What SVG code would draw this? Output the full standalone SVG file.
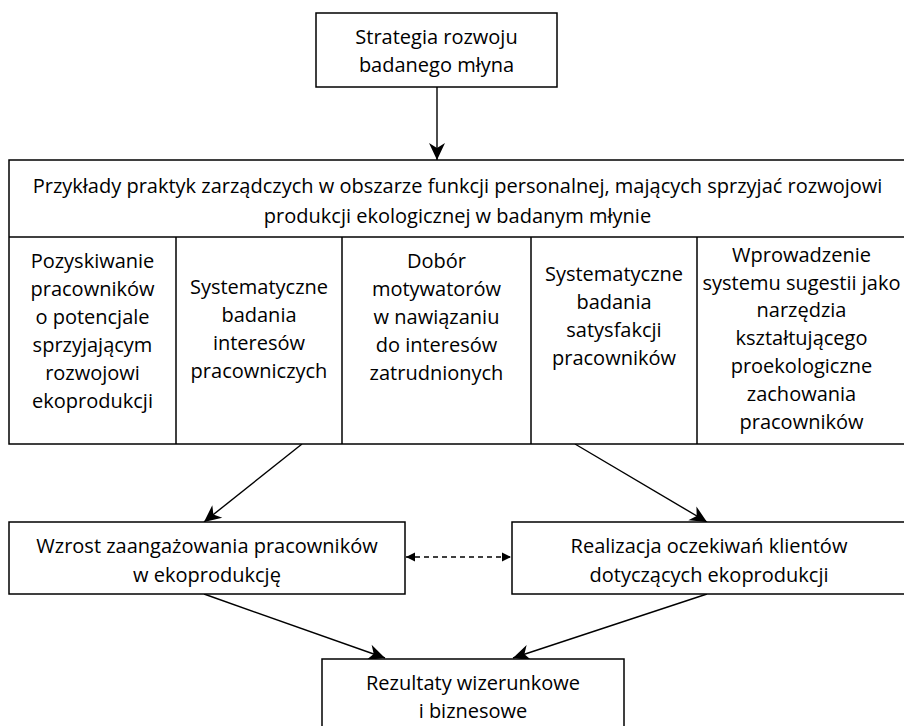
<svg xmlns="http://www.w3.org/2000/svg" width="904" height="726" viewBox="0 0 904 726">
<style>
.box{fill:#fff;stroke:#000;stroke-width:1.5}
.div{stroke:#000;stroke-width:1.5;fill:none}
.t{font-family:"Open Sans","Noto Sans","Liberation Sans",sans-serif;font-size:20px;fill:#000;text-anchor:middle}
.c{stroke:#000;stroke-width:1.4;fill:none}
.d{stroke:#000;stroke-width:1.4;fill:none;stroke-dasharray:5 4}
</style>
<defs>
<marker id="ah" markerUnits="userSpaceOnUse" markerWidth="18" markerHeight="18" refX="17" refY="8" orient="auto" overflow="visible">
<path d="M0,0 L17,8 L0,16 L5,8 Z" fill="#000"/>
</marker>
<marker id="sm" markerUnits="userSpaceOnUse" markerWidth="10" markerHeight="10" refX="9" refY="4.5" orient="auto-start-reverse" overflow="visible">
<path d="M0,0 L9,4.5 L0,9 Z" fill="#000"/>
</marker>
</defs>
<rect width="904" height="726" fill="#fff"/>
<g id="connectors">
<line class="c" x1="437" y1="87" x2="437" y2="160" marker-end="url(#ah)"/>
<line class="c" x1="302" y1="444" x2="204" y2="522" marker-end="url(#ah)"/>
<line class="c" x1="575" y1="444" x2="707" y2="522" marker-end="url(#ah)"/>
<line class="c" x1="204" y1="594" x2="385" y2="658" marker-end="url(#ah)"/>
<line class="c" x1="707" y1="594" x2="513" y2="658" marker-end="url(#ah)"/>
<line class="d" x1="406" y1="557" x2="511" y2="557" marker-start="url(#sm)" marker-end="url(#sm)"/>
</g>
<g id="strategia">
<rect class="box" x="316" y="13" width="241" height="74"/>
<text class="t" x="436.5" y="44">Strategia rozwoju</text>
<text class="t" x="436.5" y="72">badanego młyna</text>
</g>
<g id="praktyki">
<rect class="box" x="9" y="160" width="897" height="284"/>
<line class="div" x1="9" y1="237" x2="906" y2="237"/>
<text class="t" x="457.5" y="193">Przykłady praktyk zarządczych w obszarze funkcji personalnej, mających sprzyjać rozwojowi</text>
<text class="t" x="457.5" y="223">produkcji ekologicznej w badanym młynie</text>
</g>
<g id="col1">
<text class="t" x="92.5" y="268">Pozyskiwanie</text>
<text class="t" x="92.5" y="296">pracowników</text>
<text class="t" x="92.5" y="324">o potencjale</text>
<text class="t" x="92.5" y="352">sprzyjającym</text>
<text class="t" x="92.5" y="380">rozwojowi</text>
<text class="t" x="92.5" y="408">ekoprodukcji</text>
</g>
<g id="col2">
<line class="div" x1="176" y1="237" x2="176" y2="444"/>
<text class="t" x="259" y="294">Systematyczne</text>
<text class="t" x="259" y="322">badania</text>
<text class="t" x="259" y="350">interesów</text>
<text class="t" x="259" y="378">pracowniczych</text>
</g>
<g id="col3">
<line class="div" x1="342" y1="237" x2="342" y2="444"/>
<text class="t" x="436.5" y="268">Dobór</text>
<text class="t" x="436.5" y="296">motywatorów</text>
<text class="t" x="436.5" y="324">w nawiązaniu</text>
<text class="t" x="436.5" y="352">do interesów</text>
<text class="t" x="436.5" y="380">zatrudnionych</text>
</g>
<g id="col4">
<line class="div" x1="531" y1="237" x2="531" y2="444"/>
<text class="t" x="614" y="281">Systematyczne</text>
<text class="t" x="614" y="309">badania</text>
<text class="t" x="614" y="337">satysfakcji</text>
<text class="t" x="614" y="365">pracowników</text>
</g>
<g id="col5">
<line class="div" x1="697" y1="237" x2="697" y2="444"/>
<text class="t" x="801.5" y="262">Wprowadzenie</text>
<text class="t" x="801.5" y="290">systemu sugestii jako</text>
<text class="t" x="801.5" y="317">narzędzia</text>
<text class="t" x="801.5" y="345">kształtującego</text>
<text class="t" x="801.5" y="373">proekologiczne</text>
<text class="t" x="801.5" y="401">zachowania</text>
<text class="t" x="801.5" y="429">pracowników</text>
</g>
<g id="wzrost">
<rect class="box" x="9" y="522" width="396" height="72"/>
<text class="t" x="207" y="553">Wzrost zaangażowania pracowników</text>
<text class="t" x="207" y="582">w ekoprodukcję</text>
</g>
<g id="realizacja">
<rect class="box" x="512" y="522" width="394" height="72"/>
<text class="t" x="709" y="553">Realizacja oczekiwań klientów</text>
<text class="t" x="709" y="582">dotyczących ekoprodukcji</text>
</g>
<g id="rezultaty">
<rect class="box" x="322" y="659" width="302" height="80"/>
<text class="t" x="473" y="690">Rezultaty wizerunkowe</text>
<text class="t" x="473" y="718">i biznesowe</text>
</g>
</svg>
